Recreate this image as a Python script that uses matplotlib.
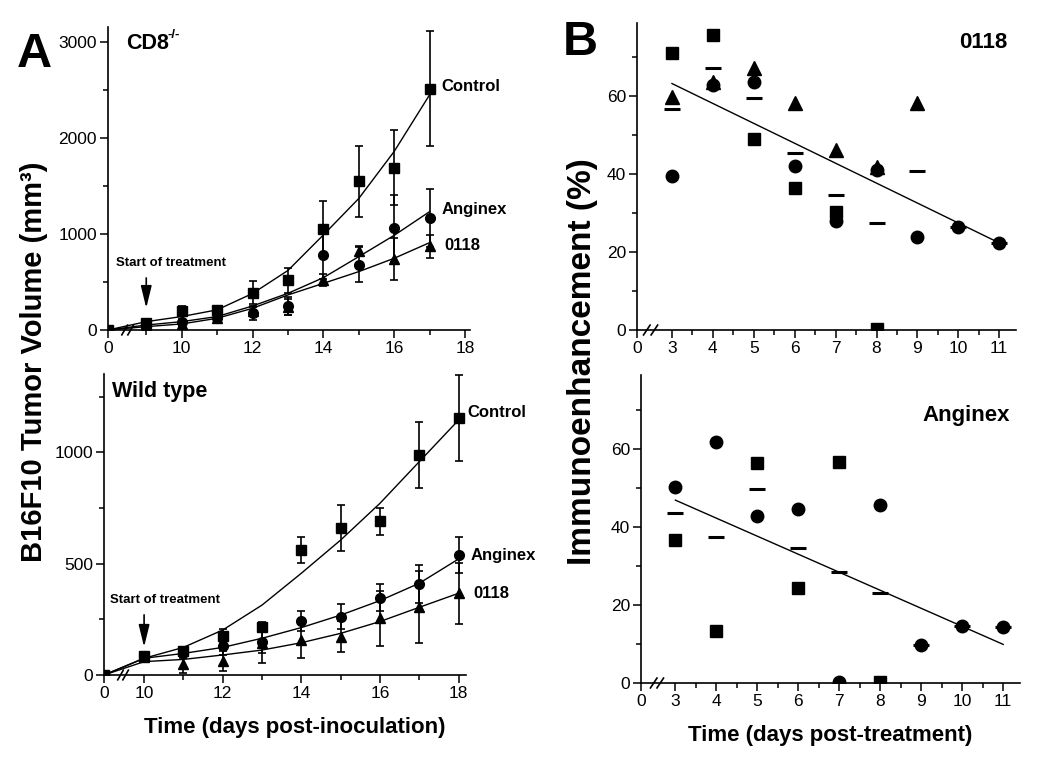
import numpy as np
import matplotlib
matplotlib.use('Agg')
import matplotlib.pyplot as plt
from matplotlib.ticker import FixedLocator

plt.rcParams['font.family'] = ['Liberation Sans', 'DejaVu Sans']

# ---------------- data: panel A, CD8-/- ----------------
days_cd8 = [0, 9, 10, 11, 12, 13, 14, 15, 16, 17]
ctrl_cd8 = [0, 70, 200, 210, 390, 520, 1055, 1550, 1690, 2515]
ctrl_cd8_err = [0, 20, 50, 30, 120, 130, 290, 370, 390, 600]
ang_cd8 = [0, 60, 80, 120, 175, 250, 780, 680, 1060, 1165]
ang_cd8_err = [0, 20, 30, 25, 70, 90, 250, 180, 350, 300]
o118_cd8 = [0, 50, 60, 120, 200, 240, 520, 820, 740, 870]
o118_cd8_err = [0, 20, 20, 20, 40, 80, 60, 50, 220, 120]
ctrl_fit_cd8 = [0, 87, 140, 210, 380, 620, 990, 1370, 1860, 2450]
ang_fit_cd8 = [0, 52, 87, 140, 250, 382, 545, 764, 986, 1233]
o118_fit_cd8 = [0, 35, 63, 122, 226, 365, 486, 608, 747, 910]

# ---------------- data: panel A, wild type ----------------
days_wt = [0, 10, 11, 12, 13, 14, 15, 16, 17, 18]
ctrl_wt = [0, 85, 109, 175, 217, 561, 659, 690, 988, 1156]
ctrl_wt_err = [0, 15, 15, 30, 20, 58, 104, 61, 147, 193]
ang_wt = [0, 85, 97, 130, 150, 244, 262, 347, 409, 539]
ang_wt_err = [0, 15, 20, 40, 50, 45, 55, 60, 85, 83]
o118_wt = [0, 82, 49, 64, 145, 157, 172, 254, 307, 367]
o118_wt_err = [0, 15, 40, 45, 90, 82, 70, 122, 162, 138]
ctrl_fit_wt = [0, 75, 124, 202, 314, 457, 606, 771, 958, 1145]
ang_fit_wt = [0, 75, 97, 124, 165, 213, 269, 334, 412, 521]
o118_fit_wt = [0, 60, 70, 90, 112, 145, 187, 240, 304, 367]

# ---------------- data: panel B, 0118 ----------------
sq_days_0118 = [3, 4, 5, 6, 7, 8]
sq_0118 = [70.8, 75.5, 48.8, 36.3, 30.3, 0.3]
circ_days_0118 = [3, 4, 5, 6, 7, 8, 9, 10, 11]
circ_0118 = [39.5, 62.7, 63.5, 42.0, 28.0, 41.0, 23.7, 26.4, 22.4]
tri_days_0118 = [3, 4, 5, 6, 7, 8, 9]
tri_0118 = [59.7, 63.5, 67.0, 58.2, 46.0, 41.8, 58.0]
mean_days_0118 = [3, 4, 5, 6, 7, 8, 9, 10, 11]
mean_0118 = [56.6, 67.0, 59.5, 45.4, 34.5, 27.5, 40.7, 26.4, 22.4]
fit_x_0118 = [3, 11]
fit_y_0118 = [63.1, 22.3]

# ---------------- data: panel B, Anginex ----------------
sq_days_ang = [3, 4, 5, 6, 7, 8]
sq_ang = [36.8, 13.4, 56.4, 24.4, 56.7, 0.3]
circ_days_ang = [3, 4, 5, 6, 7, 8, 9, 10, 11]
circ_ang = [50.2, 61.7, 42.9, 44.7, 0.3, 45.6, 9.8, 14.6, 14.4]
mean_days_ang = [3, 4, 5, 6, 7, 8, 9, 10, 11]
mean_ang = [43.5, 37.5, 49.8, 34.5, 28.5, 23.0, 9.8, 14.6, 14.4]
fit_x_ang = [3, 11]
fit_y_ang = [46.9, 9.9]

W, H = 1050, 768
fig = plt.figure(figsize=(W / 100, H / 100), dpi=100)


def add_ax(l, t, r, b):
    return fig.add_axes([l / W, 1 - b / H, (r - l) / W, (b - t) / H])


def style(ax):
    for s in ['top', 'right']:
        ax.spines[s].set_visible(False)
    for s in ['left', 'bottom']:
        ax.spines[s].set_linewidth(1.2)
    ax.tick_params(which='major', direction='out', length=5.5, width=1.1,
                   labelsize=12.5, pad=2.5)
    ax.tick_params(which='minor', direction='out', length=3.5, width=1.1)
    ax.patch.set_alpha(0)


def breaks(ax, xs, dx, dy):
    tr = ax.get_xaxis_transform()
    for xb in xs:
        ax.plot([xb - dx, xb + dx], [-dy, dy], transform=tr, color='k',
                lw=1.2, clip_on=False)


def mapx(days, p0):
    return [p0 if d == 0 else d for d in days]


def tumor_panel(ax, p0, days, series, errs, fits):
    x = mapx(days, p0)
    for y, e, f, m, ms in zip(series, errs, fits, ['s', 'o', '^'], [6.5, 7, 7.5]):
        ax.plot(x, f, '-', color='k', lw=1.0, zorder=2)
        xe = [xi for xi, ei in zip(x, e) if ei > 0]
        ye = [yi for yi, ei in zip(y, e) if ei > 0]
        ee = [ei for ei in e if ei > 0]
        ax.errorbar(xe, ye, yerr=ee, fmt='none', ecolor='k', elinewidth=1.2,
                    capsize=3, capthick=1.2, zorder=3)
        ax.plot(x, y, m, color='k', ms=ms, zorder=4)


arrow_style = dict(arrowstyle='-|>,head_length=0.9,head_width=0.22',
                   color='k', lw=1.2, mutation_scale=15, shrinkA=0, shrinkB=0)

# ---------------- top-left ----------------
p0_cd8 = 7.92
ax1 = add_ax(108, 27, 470, 330)
style(ax1)
tumor_panel(ax1, p0_cd8, days_cd8, [ctrl_cd8, ang_cd8, o118_cd8],
            [ctrl_cd8_err, ang_cd8_err, o118_cd8_err],
            [ctrl_fit_cd8, ang_fit_cd8, o118_fit_cd8])
ax1.set_xlim(p0_cd8, 18.14)
ax1.set_ylim(0, 3156)
ax1.set_xticks([p0_cd8, 10, 12, 14, 16, 18])
ax1.set_xticklabels(['0', '10', '12', '14', '16', '18'])
ax1.xaxis.set_minor_locator(FixedLocator([9, 11, 13, 15, 17]))
ax1.set_yticks([0, 1000, 2000, 3000])
ax1.yaxis.set_minor_locator(FixedLocator([500, 1500, 2500]))
breaks(ax1, [8.39, 8.56], 0.08, 0.016)
lab = dict(textcoords='offset pixels', va='center', ha='left', fontsize=12,
           fontweight='bold', annotation_clip=False)
ax1.annotate('Control', xy=(17, 2535), xytext=(12, 0), **lab)
ax1.annotate('Anginex', xy=(17, 1250), xytext=(12, 0), **lab)
ax1.annotate('0118', xy=(17, 885), xytext=(15, 0), **lab)
ax1.annotate('', xy=(9, 229), xytext=(9, 542), arrowprops=arrow_style)
ax1.text(9.70, 698, 'Start of treatment', ha='center', va='center',
         fontsize=9.5, fontweight='bold')

# ---------------- bottom-left ----------------
p0_wt = 8.98
ax2 = add_ax(104, 374, 466, 675)
style(ax2)
tumor_panel(ax2, p0_wt, days_wt, [ctrl_wt, ang_wt, o118_wt],
            [ctrl_wt_err, ang_wt_err, o118_wt_err],
            [ctrl_fit_wt, ang_fit_wt, o118_fit_wt])
ax2.set_xlim(p0_wt, 18.19)
ax2.set_ylim(0, 1352)
ax2.set_xticks([p0_wt, 10, 12, 14, 16, 18])
ax2.set_xticklabels(['0', '10', '12', '14', '16', '18'])
ax2.xaxis.set_minor_locator(FixedLocator([11, 13, 15, 17]))
ax2.set_yticks([0, 500, 1000])
ax2.yaxis.set_minor_locator(FixedLocator([250, 750, 1250]))
breaks(ax2, [9.40, 9.53], 0.07, 0.016)
ax2.annotate('Control', xy=(18, 1180), xytext=(9, 0), **lab)
ax2.annotate('Anginex', xy=(18, 539), xytext=(12, 0), **lab)
ax2.annotate('0118', xy=(18, 367), xytext=(15, 0), **lab)
ax2.annotate('', xy=(10, 126), xytext=(10, 270), arrowprops=arrow_style)
ax2.text(10.52, 337, 'Start of treatment', ha='center', va='center',
         fontsize=9.5, fontweight='bold')


# ---------------- right panels ----------------
def immuno_panel(ax, p0, sqd, sq, cd, cv, td, tv, md, mv, fx, fy):
    ax.plot(fx, fy, '-', color='k', lw=1.0, zorder=2)
    if sqd:
        ax.plot(sqd, sq, 's', color='k', ms=8.5, zorder=3)
    ax.plot(cd, cv, 'o', color='k', ms=9, zorder=3)
    if td:
        ax.plot(td, tv, '^', color='k', ms=9.5, zorder=3)
    ax.plot(md, mv, '_', color='k', ms=11, mew=2.2, zorder=4)
    ax.set_xticks([p0] + list(range(3, 12)))
    ax.set_xticklabels(['0'] + [str(i) for i in range(3, 12)])
    ax.xaxis.set_minor_locator(FixedLocator([i + 0.5 for i in range(3, 11)]))
    ax.set_yticks([0, 20, 40, 60])
    ax.yaxis.set_minor_locator(FixedLocator([10, 30, 50, 70]))


p0_b1 = 2.145
ax3 = add_ax(637, 23, 1016, 330)
style(ax3)
immuno_panel(ax3, p0_b1, sq_days_0118, sq_0118, circ_days_0118, circ_0118,
             tri_days_0118, tri_0118, mean_days_0118, mean_0118, fit_x_0118, fit_y_0118)
ax3.set_xlim(p0_b1, 11.41)
ax3.set_ylim(0, 78.6)
breaks(ax3, [2.385, 2.57], 0.08, 0.016)

p0_b2 = 2.16
ax4 = add_ax(641, 375, 1020, 683)
style(ax4)
immuno_panel(ax4, p0_b2, sq_days_ang, sq_ang, circ_days_ang, circ_ang,
             [], [], mean_days_ang, mean_ang, fit_x_ang, fit_y_ang)
ax4.set_xlim(p0_b2, 11.41)
ax4.set_ylim(0, 79)
breaks(ax4, [2.47, 2.63], 0.08, 0.016)


# ---------------- figure texts ----------------
def ftext(x, y, s, **kw):
    fig.text(x / W, 1 - y / H, s, **kw)


ftext(17, 67, 'A', fontsize=35, fontweight='bold', va='baseline', ha='left')
ftext(563, 55, 'B', fontsize=35, fontweight='bold', va='baseline', ha='left')
ftext(126, 49, 'CD8', fontsize=15.5, fontweight='bold', va='baseline', ha='left')
ftext(168, 38, '-/-', fontsize=9.5, fontweight='bold', va='baseline', ha='left')
ftext(112, 397, 'Wild type', fontsize=15.5, fontweight='bold', va='baseline', ha='left')
ftext(1007, 43, '0118', fontsize=16, fontweight='bold', va='center', ha='right')
ftext(1010, 415, 'Anginex', fontsize=16, fontweight='bold', va='center', ha='right')
ftext(34, 362, 'B16F10 Tumor Volume (mm³)', fontsize=21, fontweight='bold',
      rotation=90, ha='center', va='center')
ftext(583, 362, 'Immunoenhancement (%)', fontsize=24, fontweight='bold',
      rotation=90, ha='center', va='center')
ftext(295, 727, 'Time (days post-inoculation)', fontsize=16, fontweight='bold',
      ha='center', va='center')
ftext(830, 735, 'Time (days post-treatment)', fontsize=16, fontweight='bold',
      ha='center', va='center')

fig.savefig('out.png', dpi=100)
